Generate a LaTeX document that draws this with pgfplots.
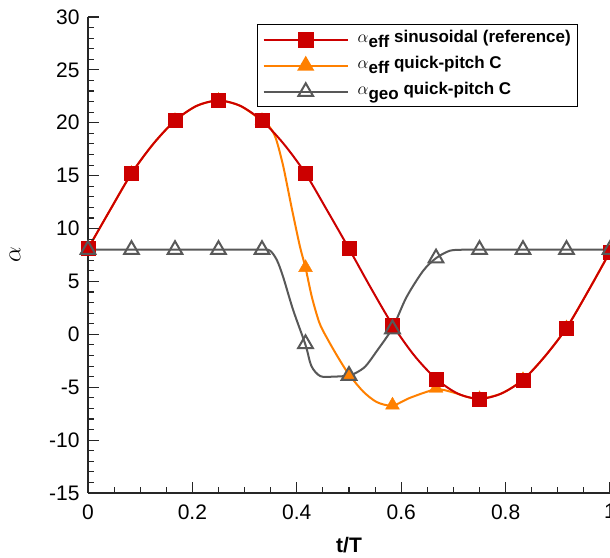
\documentclass[border=0pt]{standalone}
\usepackage{pgfplots}
\pgfplotsset{compat=1.18}
\usepackage{fontspec}
\setmainfont{Liberation Sans}

\definecolor{effred}{RGB}{204,0,0}
\definecolor{effora}{RGB}{255,128,0}
\definecolor{geogray}{RGB}{88,88,88}

\newcommand{\sub}[1]{\raisebox{-5pt}{#1}}
\newcommand{\al}{{\fontsize{19}{19}\selectfont$\alpha$}}

\begin{document}
\begin{tikzpicture}
\begin{axis}[
  scale only axis,
  width=522pt, height=476pt,
  xmin=0, xmax=1, ymin=-15, ymax=30,
  axis x line*=bottom, axis y line*=left,
  axis line style={line width=1.2pt, black!85},
  axis on top,
  tick align=inside,
  xtick={0,0.2,...,1}, minor x tick num=3,
  ytick={-15,-10,...,30}, minor y tick num=4,
  major tick length=11pt, minor tick length=6pt,
  every tick/.style={line width=1.1pt, black!85},
  /pgf/number format/assume math mode=true,
  tick label style={font=\fontsize{21}{24}\selectfont},
  yticklabel style={xshift=-5pt},
  xticklabel style={yshift=-8pt},
  xlabel={\bfseries t/T},
  ylabel={$\alpha$},
  every axis x label/.style={at={(rel axis cs:0.5,0)}, anchor=center, yshift=-52pt,
    font=\fontsize{21}{24}\selectfont},
  every axis y label/.style={at={(rel axis cs:0,0.5)}, anchor=center, xshift=-73pt,
    rotate=90, font=\fontsize{24}{26}\selectfont},
  legend style={at={(0.324,0.985)}, anchor=north west, draw=black, line width=1.2pt,
    font=\fontsize{17}{20}\selectfont\bfseries, fill=white,
    nodes={inner sep=2pt, text height=14pt, text depth=8pt},
    /tikz/every odd column/.append style={column sep=7pt},
    inner xsep=5pt, inner ysep=2pt},
  legend cell align=left,
  legend image code/.code={\draw[mark repeat=2,mark phase=2,#1]
    plot coordinates {(0pt,0pt) (42pt,0pt) (84pt,0pt)};},
]
\coordinate (bl) at (rel axis cs:0,0);
\coordinate (tr) at (rel axis cs:1,1);

% legend entries
\addlegendimage{effred, line width=2pt, mark=square*, mark size=7pt}
\addlegendentry{\al\sub{eff} sinusoidal (reference)}
\addlegendimage{effora, line width=2pt, mark=triangle*, mark size=8pt}
\addlegendentry{\al\sub{eff} quick-pitch C}
\addlegendimage{geogray, line width=2pt, mark=triangle, mark size=8.5pt, mark options={line width=2pt}}
\addlegendentry{\al\sub{geo} quick-pitch C}

% effective angle, quick-pitch C
\addplot[effora, line width=2pt, smooth, tension=0.45, forget plot] coordinates {
 (0,8.1) (0.0417,11.7) (0.0833,15.2) (0.125,18.0) (0.1667,20.2) (0.2083,21.6)
 (0.25,22.1) (0.2917,21.6) (0.3333,20.2) (0.348,19.6) (0.36,18.5) (0.374,15.9)
 (0.39,12.0) (0.406,8.3) (0.4167,6.3) (0.429,3.5) (0.444,1.0) (0.464,-0.9)
 (0.483,-2.5) (0.5,-3.8) (0.527,-5.4) (0.553,-6.4) (0.5833,-6.75) (0.617,-6.0)
 (0.6667,-5.2) (0.7,-5.5) (0.725,-5.9) (0.75,-6.1) (0.7917,-5.6) (0.8333,-4.3)
 (0.875,-2.1) (0.9167,0.6) (0.9583,4.1) (1,7.8)};
\addplot[effora, only marks, mark=triangle*, mark size=8pt, forget plot] coordinates {
 (0,8.1) (0.0833,15.2) (0.1667,20.2) (0.25,22.1) (0.3333,20.2) (0.4167,6.3)
 (0.5,-3.9) (0.5833,-6.7) (0.6667,-5.1) (0.75,-6.1) (0.8333,-4.3) (0.9167,0.6) (1,7.8)};

% effective angle, sinusoidal reference
\addplot[effred, line width=2pt, smooth, forget plot] coordinates {
 (0,8.1) (0.0417,11.7) (0.0833,15.2) (0.125,18.0) (0.1667,20.2) (0.2083,21.6)
 (0.25,22.1) (0.2917,21.6) (0.3333,20.2) (0.375,18.0) (0.4167,15.2) (0.4583,11.7)
 (0.5,8.1) (0.5417,4.4) (0.5833,0.9) (0.625,-2.0) (0.6667,-4.2) (0.7083,-5.6)
 (0.75,-6.1) (0.7917,-5.6) (0.8333,-4.3) (0.875,-2.1) (0.9167,0.6) (0.9583,4.1) (1,7.8)};
\addplot[effred, only marks, mark=square*, mark size=7pt, forget plot] coordinates {
 (0,8.1) (0.0833,15.2) (0.1667,20.2) (0.25,22.1) (0.3333,20.2) (0.4167,15.2)
 (0.5,8.1) (0.5833,0.9) (0.6667,-4.2) (0.75,-6.1) (0.8333,-4.3) (0.9167,0.6) (1,7.8)};

% geometric angle, quick-pitch C
\addplot[geogray, line width=2pt, smooth, tension=0.5, forget plot] coordinates {
 (0,8) (0.0833,8) (0.1667,8) (0.25,8) (0.3333,8) (0.349,7.9) (0.362,7.0)
 (0.374,5.4) (0.393,2.3) (0.4167,-1.0) (0.428,-3.0) (0.445,-3.95) (0.47,-4.0)
 (0.5,-3.9) (0.515,-3.6) (0.532,-3.0) (0.553,-1.6) (0.5833,0.6) (0.61,3.5)
 (0.642,6.0) (0.6667,7.2) (0.693,7.9) (0.72,8.0) (0.75,8) (0.8333,8) (0.9167,8) (1,8)};
\addplot[geogray, only marks, mark=triangle, mark size=8.5pt,
  mark options={line width=2pt}, forget plot] coordinates {
 (0,8) (0.0833,8) (0.1667,8) (0.25,8) (0.3333,8) (0.4167,-0.9) (0.5,-3.9)
 (0.5833,0.5) (0.6667,7.2) (0.75,8) (0.8333,8) (0.9167,8) (1,8)};
\end{axis}
\pgfresetboundingbox
\useasboundingbox ([xshift=-88pt,yshift=-65pt]bl) rectangle ([yshift=17pt]tr);
\end{tikzpicture}
\end{document}
